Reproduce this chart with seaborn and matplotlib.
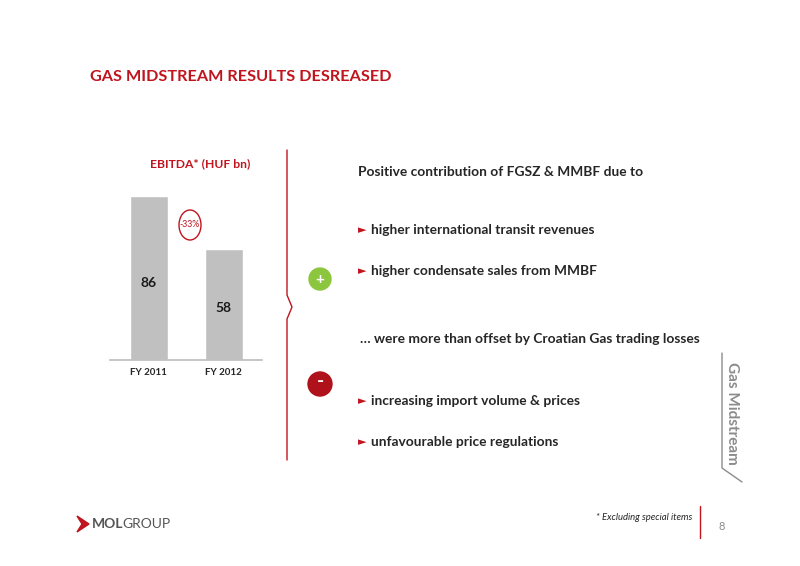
import matplotlib.pyplot as plt
import seaborn as sns
from matplotlib.patches import Ellipse, Polygon
from matplotlib.lines import Line2D

years = ["FY 2011", "FY 2012"]
ebitda = [86, 58]
change_label = "-33%"
bullets_pos = ["higher international transit revenues", "higher condensate sales from MMBF"]
bullets_neg = ["increasing import volume & prices", "unfavourable price regulations"]

RED = "#c0141e"
W, H = 800, 566

sns.set_theme(style="white")
plt.rcParams['font.family'] = ['Lato', 'DejaVu Sans']

fig = plt.figure(figsize=(8, 5.66), dpi=100)


def fx(x):
    return x / W


def fy(y):
    return 1 - y / H


def txt(x, y, s, **kw):
    fig.text(fx(x), fy(y), s, **kw)


ax = fig.add_axes([fx(110), fy(360), fx(152), 190 / H])
sns.barplot(x=years, y=ebitda, color="#c0c0c0", width=0.5, saturation=1, ax=ax)
ax.set_ylim(0, 99.6)
ax.set_xlim(-0.52, 1.51)
ax.set_yticks([])
for s in ["top", "right", "left"]:
    ax.spines[s].set_visible(False)
ax.spines["bottom"].set_color("#bfbfbf")
ax.tick_params(axis="x", labelsize=7, pad=6, length=0)
for lab in ax.get_xticklabels():
    lab.set_fontweight("bold")
for i, v in enumerate(ebitda):
    ax.text(i, v * 0.47, str(v), ha="center", va="center", fontsize=10, fontweight="bold", color="#1a1a1a")

txt(90, 77, "GAS MIDSTREAM RESULTS DESREASED", fontsize=11.7, fontweight="bold", color=RED, va="center")
txt(200, 164, "EBITDA* (HUF bn)", fontsize=8.7, fontweight="bold", color=RED, ha="center", va="center")

fig.patches.append(Ellipse((fx(190), fy(225)), 22 / W, 30 / H, fill=False, ec=RED, lw=1,
                           transform=fig.transFigure))
txt(190, 225, change_label, fontsize=6.3, color=RED, ha="center", va="center")

# divider with a small notch
fig.lines.append(Line2D([fx(287), fx(287), fx(292), fx(287), fx(287)],
                        [fy(150), fy(295), fy(307), fy(319), fy(460)],
                        color=RED, lw=1, transform=fig.transFigure))

FS = 9.9
txt(358, 172, "Positive contribution of FGSZ & MMBF due to", fontsize=FS, fontweight="bold", va="center")
for y, s in zip([230, 271], bullets_pos):
    txt(358, y, "\u25ba", fontsize=8, color=RED, va="center")
    txt(371, y, s, fontsize=FS, fontweight="bold", va="center")
txt(360, 339, "\u2026 were more than offset by Croatian Gas trading losses", fontsize=FS,
    fontweight="bold", va="center")
for y, s in zip([401, 442], bullets_neg):
    txt(358, y, "\u25ba", fontsize=8, color=RED, va="center")
    txt(371, y, s, fontsize=FS, fontweight="bold", va="center")

fig.patches.append(Ellipse((fx(320), fy(279)), 22 / W, 22 / H, color="#8cc63f", transform=fig.transFigure))
fig.patches.append(Ellipse((fx(320), fy(384)), 24 / W, 24 / H, color="#b0121b", transform=fig.transFigure))
txt(320, 280, "+", fontsize=11, fontweight="bold", color="white", ha="center", va="center")
txt(320, 382, "-", fontsize=14, fontweight="bold", color="white", ha="center", va="center")

txt(732, 413, "Gas Midstream", fontsize=11, fontweight="bold", color="#8c8c8c", rotation=-90,
    ha="center", va="center")
fig.lines.append(Line2D([fx(722), fx(722), fx(742)], [fy(353), fy(468), fy(482)],
                        color="#8c8c8c", lw=1, transform=fig.transFigure))

txt(692, 518, "* Excluding special items", fontsize=6.8, style="italic", ha="right", va="center")
fig.lines.append(Line2D([fx(700), fx(700)], [fy(506), fy(538)], color=RED, lw=1,
                        transform=fig.transFigure))
txt(722, 526, "8", fontsize=8, color="#8c8c8c", ha="center", va="center")

# logo
fig.patches.append(Polygon([(fx(77), fy(516)), (fx(89), fy(524)), (fx(77), fy(532)), (fx(82), fy(524))],
                           closed=True, color=RED, transform=fig.transFigure))
txt(92, 524, "MOL", fontsize=10, fontweight="bold", color="#555555", va="center")
txt(122, 524, "GROUP", fontsize=10, color="#555555", va="center")

fig.savefig("out.png", dpi=100)
